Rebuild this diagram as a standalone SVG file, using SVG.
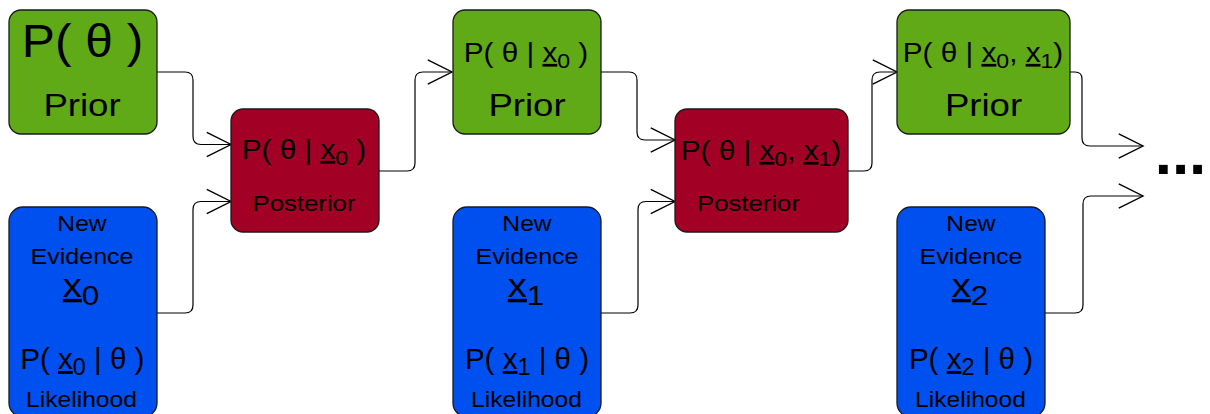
<svg xmlns="http://www.w3.org/2000/svg" width="1210" height="414" viewBox="0 0 1210 414">
<defs>
<style>
.g{fill:#60a917;stroke:#1a1a1a;stroke-width:1.3}
.r{fill:#a20025;stroke:#1a1a1a;stroke-width:1.3}
.b{fill:#0050ef;stroke:#1a1a1a;stroke-width:1.3}
text{font-family:"Liberation Sans",Arial,sans-serif;fill:#000;text-anchor:middle}
.u{text-decoration:underline}
.c{fill:none;stroke:#000;stroke-width:1.2;marker-end:url(#ar)}
</style>
<marker id="ar" markerUnits="userSpaceOnUse" markerWidth="30" markerHeight="30" viewBox="-24 -13 26 26" refX="0" refY="0" orient="auto" overflow="visible">
<path d="M-21,-10.5 L0,0 L-21,10.5" fill="none" stroke="#000" stroke-width="1.2"/>
</marker>
</defs>
<g id="connectors">
<path class="c" d="M157,72 H185 Q193,72 193,80 V136.5 Q193,144.5 201,144.5 H231"/>
<path class="c" d="M157,313 H185 Q193,313 193,305 V209.5 Q193,201.5 201,201.5 H231"/>
<path class="c" d="M379,171 H407 Q415,171 415,163 V80 Q415,72 423,72 H452"/>
<path class="c" d="M601,72 H629 Q637,72 637,80 V132 Q637,140 645,140 H675"/>
<path class="c" d="M601,313 H630 Q638,313 638,305 V209.5 Q638,201.5 646,201.5 H675"/>
<path class="c" d="M848,171 H864 Q872,171 872,163 V80 Q872,72 880,72 H897"/>
<path class="c" d="M1070,72 H1075 Q1082,72 1082,79 V138 Q1082,146 1090,146 H1143"/>
<path class="c" d="M1045,313 H1075 Q1083,313 1083,305 V204 Q1083,196 1091,196 H1143"/>
</g>
<g id="prior0">
<rect class="g" x="9" y="10" width="148" height="124" rx="12"/>
<text transform="translate(82.5,57) scale(1.08,1)" font-size="46">P( θ )</text>
<text transform="translate(82,116) scale(1.2,1)" font-size="30.5">Prior</text>
</g>
<g id="evidence0">
<rect class="b" x="9" y="207" width="148" height="210" rx="14"/>
<text transform="translate(82,231) scale(1.12,1)" font-size="22">New</text>
<text transform="translate(82,264) scale(1.14,1)" font-size="22">Evidence</text>
<text transform="translate(81,297) scale(1.12,1)" font-size="34"><tspan class="u">x</tspan><tspan font-size="28" dy="8">0</tspan></text>
<text transform="translate(82.3,369) scale(1.02,1)" font-size="29">P( <tspan class="u">x</tspan><tspan font-size="23" dy="6">0</tspan><tspan dy="-6"> | θ )</tspan></text>
<text transform="translate(81.5,407) scale(1.12,1)" font-size="22">Likelihood</text>
</g>
<g id="posterior0">
<rect class="r" x="231" y="109" width="148" height="123" rx="12"/>
<text transform="translate(304,159) scale(1.1,1)" font-size="27">P( θ | <tspan class="u">x</tspan><tspan font-size="21" dy="6">0</tspan><tspan dy="-6"> )</tspan></text>
<text transform="translate(304,211) scale(1.12,1)" font-size="23">Posterior</text>
</g>
<g id="prior1">
<rect class="g" x="453" y="10" width="148" height="124" rx="12"/>
<text transform="translate(526,62) scale(1.1,1)" font-size="27">P( θ | <tspan class="u">x</tspan><tspan font-size="21" dy="6">0</tspan><tspan dy="-6"> )</tspan></text>
<text transform="translate(527,116) scale(1.2,1)" font-size="30.5">Prior</text>
</g>
<g id="evidence1">
<rect class="b" x="453" y="207" width="148" height="210" rx="14"/>
<text transform="translate(527,231) scale(1.12,1)" font-size="22">New</text>
<text transform="translate(527,264) scale(1.14,1)" font-size="22">Evidence</text>
<text transform="translate(526,297) scale(1.12,1)" font-size="34"><tspan class="u">x</tspan><tspan font-size="28" dy="8">1</tspan></text>
<text transform="translate(527,369) scale(1.02,1)" font-size="29">P( <tspan class="u">x</tspan><tspan font-size="23" dy="6">1</tspan><tspan dy="-6"> | θ )</tspan></text>
<text transform="translate(526.5,407) scale(1.12,1)" font-size="22">Likelihood</text>
</g>
<g id="posterior1">
<rect class="r" x="675" y="109" width="173" height="123" rx="12"/>
<text transform="translate(761,160) scale(1.1,1)" font-size="27">P( θ | <tspan class="u">x</tspan><tspan font-size="21" dy="6">0</tspan><tspan dy="-6">, </tspan><tspan class="u">x</tspan><tspan font-size="21" dy="6">1</tspan><tspan dy="-6">)</tspan></text>
<text transform="translate(748.5,211) scale(1.12,1)" font-size="23">Posterior</text>
</g>
<g id="prior2">
<rect class="g" x="897" y="10" width="173" height="124" rx="12"/>
<text transform="translate(983,62) scale(1.1,1)" font-size="27">P( θ | <tspan class="u">x</tspan><tspan font-size="21" dy="6">0</tspan><tspan dy="-6">, </tspan><tspan class="u">x</tspan><tspan font-size="21" dy="6">1</tspan><tspan dy="-6">)</tspan></text>
<text transform="translate(983.5,116) scale(1.2,1)" font-size="30.5">Prior</text>
</g>
<g id="evidence2">
<rect class="b" x="897" y="207" width="148" height="210" rx="14"/>
<text transform="translate(971,231) scale(1.12,1)" font-size="22">New</text>
<text transform="translate(971,264) scale(1.14,1)" font-size="22">Evidence</text>
<text transform="translate(970,297) scale(1.12,1)" font-size="34"><tspan class="u">x</tspan><tspan font-size="28" dy="8">2</tspan></text>
<text transform="translate(971,369) scale(1.02,1)" font-size="29">P( <tspan class="u">x</tspan><tspan font-size="23" dy="6">2</tspan><tspan dy="-6"> | θ )</tspan></text>
<text transform="translate(970.5,407) scale(1.12,1)" font-size="22">Likelihood</text>
</g>
<g id="ellipsis">
<text x="1180.5" y="174.3" font-size="62" font-weight="bold">...</text>
</g>
</svg>
